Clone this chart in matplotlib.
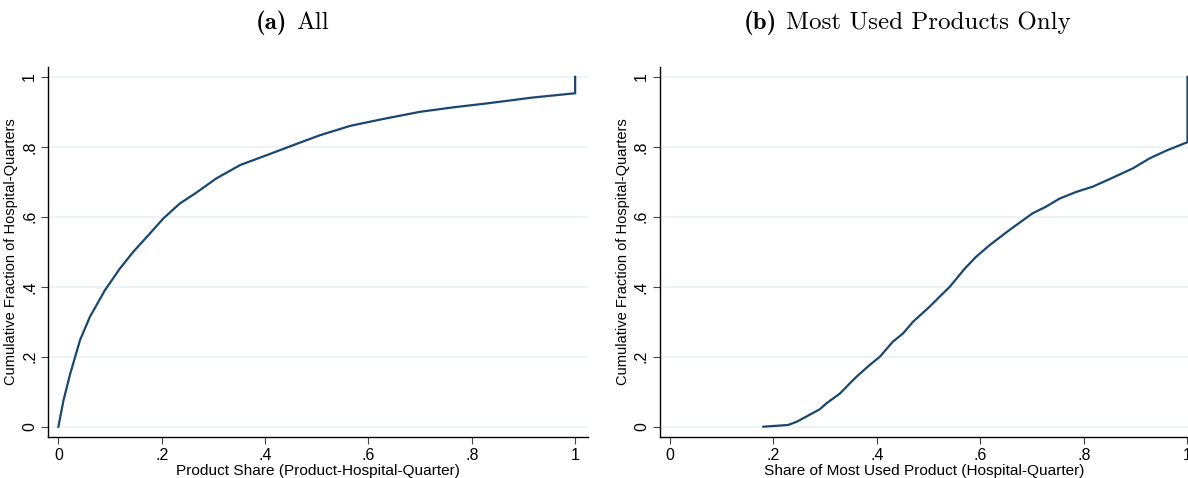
import matplotlib
matplotlib.use("Agg")
import matplotlib.pyplot as plt

plt.rcParams['font.family'] = ['Liberation Sans', 'DejaVu Sans']

# Panel (a): CDF of product share across product-hospital-quarters
share_all = [0, 0.010, 0.023, 0.042, 0.061, 0.090, 0.119, 0.145, 0.177, 0.203,
             0.235, 0.265, 0.306, 0.352, 0.403, 0.455, 0.506, 0.565, 0.630,
             0.700, 0.765, 0.829, 0.919, 1.0, 1.0]
cdf_all = [0, 0.076, 0.152, 0.248, 0.314, 0.390, 0.452, 0.500, 0.552, 0.595,
           0.638, 0.667, 0.710, 0.748, 0.776, 0.805, 0.833, 0.860, 0.880,
           0.900, 0.913, 0.924, 0.941, 0.953, 1.0]

# Panel (b): CDF of share of the most used product per hospital-quarter
share_top = [0.181, 0.229, 0.245, 0.264, 0.290, 0.303, 0.329, 0.348, 0.361,
             0.386, 0.406, 0.431, 0.451, 0.470, 0.502, 0.521, 0.541, 0.570,
             0.592, 0.618, 0.656, 0.701, 0.727, 0.753, 0.785, 0.817, 0.856,
             0.894, 0.927, 0.959, 0.996, 1.0, 1.0]
cdf_top = [0, 0.005, 0.014, 0.029, 0.050, 0.067, 0.095, 0.124, 0.143,
           0.176, 0.200, 0.243, 0.267, 0.300, 0.343, 0.371, 0.400, 0.452,
           0.486, 0.519, 0.562, 0.610, 0.629, 0.652, 0.671, 0.686, 0.712,
           0.738, 0.767, 0.789, 0.811, 0.813, 1.0]

ticks = [0, 0.2, 0.4, 0.6, 0.8, 1.0]
tick_labels = ['0', '.2', '.4', '.6', '.8', '1']

navy = '#1a476f'
grid_col = '#eaf2f3'

fig = plt.figure(figsize=(11.88, 4.78), dpi=100)
ax1 = fig.add_axes([0.0407, 0.0868, 0.4543, 0.7737])
ax2 = fig.add_axes([0.5556, 0.0868, 0.4444, 0.7737])


def style(ax, xlabel, xlim):
    ax.set_xlim(*xlim)
    ax.set_ylim(-0.028, 1.029)
    ax.set_xticks(ticks)
    ax.set_xticklabels(tick_labels, fontsize=11.5)
    ax.set_yticks(ticks)
    ax.set_yticklabels(tick_labels, fontsize=11.5, rotation=90, va='center')
    for t in ticks:
        ax.axhline(t, color=grid_col, lw=1.2, zorder=0)
    ax.spines['top'].set_visible(False)
    ax.spines['right'].set_visible(False)
    ax.spines['left'].set_linewidth(1.0)
    ax.spines['bottom'].set_linewidth(1.0)
    ax.tick_params(direction='out', length=5, width=0.8, color='#444444', pad=3)
    ax.set_xlabel(xlabel, fontsize=11.1, labelpad=1)
    ax.set_ylabel('Cumulative Fraction of Hospital-Quarters', fontsize=10.5, labelpad=3)


def panel_title(xc, tag, text, y=0.952, size=18):
    # bold tag + roman text, centred as one group on xc
    r = fig.canvas.get_renderer()
    t1 = fig.text(0, y, tag, family='cmb10', fontsize=size, va='center')
    t2 = fig.text(0, y, text, family='cmr10', fontsize=size, va='center')
    w1 = t1.get_window_extent(r).width / fig.bbox.width
    w2 = t2.get_window_extent(r).width / fig.bbox.width
    gap = 9 / fig.bbox.width
    x0 = xc - (w1 + gap + w2) / 2
    t1.set_x(x0)
    t2.set_x(x0 + w1 + gap)


ax1.plot(share_all, cdf_all, color=navy, lw=1.6, solid_joinstyle='miter')
style(ax1, 'Product Share (Product-Hospital-Quarter)', (-0.0194, 1.025))

ax2.plot(share_top, cdf_top, color=navy, lw=1.6, solid_joinstyle='miter')
style(ax2, 'Share of Most Used Product (Hospital-Quarter)', (-0.0185, 1.001))

panel_title(0.246, '(a)', 'All')
panel_title(0.764, '(b)', 'Most Used Products Only')

fig.savefig('out.png', dpi=100)
